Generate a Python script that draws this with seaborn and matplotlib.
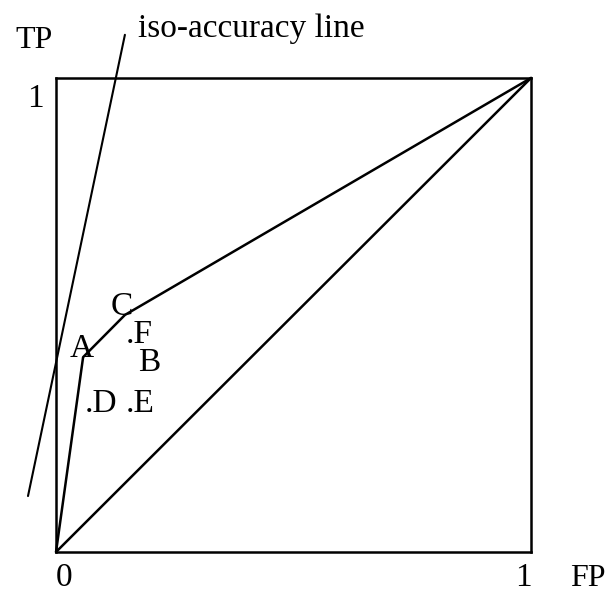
import numpy as np
import pandas as pd
import seaborn as sns
from matplotlib import pyplot as plt

# ROC convex hull (FP, TP)
hull_fp = [0.0, 0.057, 0.145, 1.0]
hull_tp = [0.0, 0.411, 0.500, 1.0]

# random-guess diagonal
diag_fp = [0.0, 1.0]
diag_tp = [0.0, 1.0]

# iso-accuracy line
iso_fp = [-0.059, 0.145]
iso_tp = [0.118, 1.091]

# classifier labels (text anchored at baseline centre)
pt_labels = ["A", "C", ".F", "B", ".D", ".E"]
pt_fp = [0.055, 0.139, 0.176, 0.196, 0.094, 0.178]
pt_tp = [0.411, 0.500, 0.441, 0.382, 0.295, 0.295]

sns.set_style("white")
plt.rcParams['font.family'] = ['Liberation Serif', 'DejaVu Serif']
plt.rcParams['text.color'] = 'black'

fig = plt.figure(figsize=(6.09, 5.95), dpi=100)
ax = fig.add_axes([0.092, 0.0723, 0.78, 0.7967])

df_hull = pd.DataFrame({'FP': hull_fp, 'TP': hull_tp})
df_diag = pd.DataFrame({'FP': diag_fp, 'TP': diag_tp})
df_iso = pd.DataFrame({'FP': iso_fp, 'TP': iso_tp})

lw = 1.8
sns.lineplot(data=df_hull, x='FP', y='TP', sort=False, color='k', lw=lw, ax=ax)
sns.lineplot(data=df_diag, x='FP', y='TP', sort=False, color='k', lw=lw, ax=ax)
sns.lineplot(data=df_iso, x='FP', y='TP', sort=False, color='k', lw=1.5, ax=ax)
for line in ax.lines:
    line.set_clip_on(False)

ax.set_xlim(0, 1)
ax.set_ylim(0, 1)
ax.set_xticks([])
ax.set_yticks([])
ax.set_xlabel("")
ax.set_ylabel("")
for s in ax.spines.values():
    s.set_color('k')
    s.set_linewidth(lw)

fs = 24
for lab, x, y in zip(pt_labels, pt_fp, pt_tp):
    ax.text(x, y, lab, fontsize=fs, ha='center', va='baseline')

ax.text(0.173, 1.086, "iso-accuracy line", fontsize=fs, ha='left', va='baseline', clip_on=False)
ax.text(-0.086, 1.063, "TP", fontsize=23, ha='left', va='baseline', clip_on=False)
ax.text(1.083, -0.072, "FP", fontsize=23, ha='left', va='baseline', clip_on=False)
ax.text(0.017, -0.072, "0", fontsize=fs, ha='center', va='baseline', clip_on=False)
ax.text(0.985, -0.072, "1", fontsize=fs, ha='center', va='baseline', clip_on=False)
ax.text(-0.044, 0.939, "1", fontsize=fs, ha='center', va='baseline', clip_on=False)

fig.savefig("out.png", dpi=100)
